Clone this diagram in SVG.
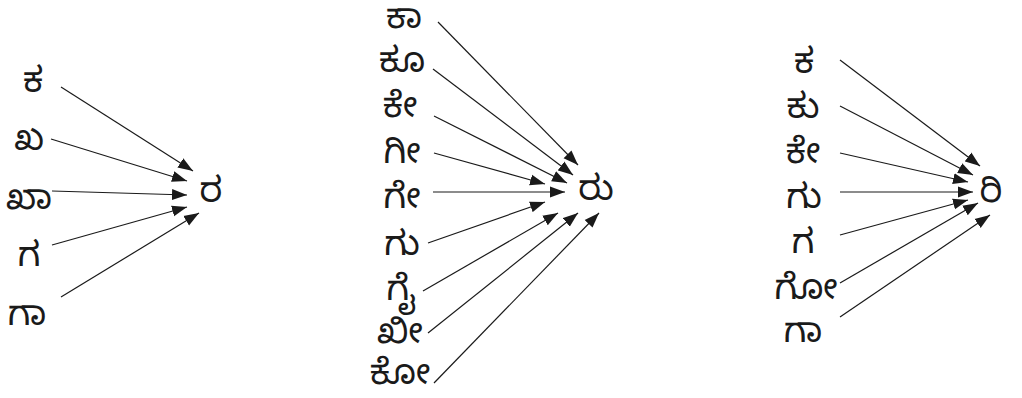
<svg xmlns="http://www.w3.org/2000/svg" width="1022" height="398" viewBox="0 0 1022 398">
<style>
text{font-family:"Noto Sans Kannada","Noto Sans","DejaVu Sans",sans-serif;font-size:35px;fill:#1a1a1a;text-anchor:middle}
.c line{stroke:#1a1a1a;stroke-width:1.2;marker-end:url(#ah)}
</style>
<defs>
<marker id="ah" markerUnits="userSpaceOnUse" markerWidth="16" markerHeight="12" viewBox="0 0 16 12" refX="15" refY="6" orient="auto">
<path d="M0,0.5 L15,6 L0,11.5 Z" fill="#1a1a1a"/>
</marker>
</defs>
<rect width="1022" height="398" fill="#fff"/>
<g id="g1">
<g id="n1a"><text x="33" y="92">ಕ</text></g>
<g id="n1b"><text x="29" y="150">ಖ</text></g>
<g id="n1c"><text x="29" y="209">ಖಾ</text></g>
<g id="n1d"><text x="29" y="266">ಗ</text></g>
<g id="n1e"><text x="27" y="325">ಗಾ</text></g>
<g id="n1t"><text x="211" y="202">ರ</text></g>
</g>
<g id="g2">
<g id="n2a"><text x="404" y="28">ಕಾ</text></g>
<g id="n2b"><text x="402" y="72">ಕೂ</text></g>
<g id="n2c"><text x="400" y="117">ಕೇ</text></g>
<g id="n2d"><text x="402" y="163">ಗೀ</text></g>
<g id="n2e"><text x="402" y="208">ಗೇ</text></g>
<g id="n2f"><text x="402" y="255">ಗು</text></g>
<g id="n2g"><text x="401" y="300">ಗೈ</text></g>
<g id="n2h"><text x="400" y="343">ಖೀ</text></g>
<g id="n2i"><text x="400" y="384">ಕೋ</text></g>
<g id="n2t"><text x="596" y="200">ರು</text></g>
</g>
<g id="g3">
<g id="n3a"><text x="804" y="73">ಕ</text></g>
<g id="n3b"><text x="803" y="118">ಕು</text></g>
<g id="n3c"><text x="803" y="163">ಕೇ</text></g>
<g id="n3d"><text x="804" y="208">ಗು</text></g>
<g id="n3e"><text x="803" y="253">ಗ</text></g>
<g id="n3f"><text x="806" y="299">ಗೋ</text></g>
<g id="n3g"><text x="803" y="342">ಗಾ</text></g>
<g id="n3t"><text x="991" y="202">ರಿ</text></g>
</g>
<g id="connectors" class="c">
<line x1="61" y1="87" x2="193" y2="171"/>
<line x1="51" y1="139" x2="187" y2="181"/>
<line x1="52" y1="191" x2="187" y2="195"/>
<line x1="52" y1="245" x2="187" y2="207"/>
<line x1="61" y1="297" x2="199" y2="213"/>
<line x1="438" y1="22" x2="578" y2="165"/>
<line x1="433" y1="69" x2="573" y2="175"/>
<line x1="434" y1="116" x2="567" y2="183"/>
<line x1="434" y1="153" x2="545" y2="184"/>
<line x1="433" y1="192" x2="565" y2="192"/>
<line x1="428" y1="243" x2="545" y2="202"/>
<line x1="423" y1="291" x2="558" y2="213"/>
<line x1="428" y1="333" x2="578" y2="213"/>
<line x1="434" y1="383" x2="599" y2="213"/>
<line x1="840" y1="60" x2="980" y2="166"/>
<line x1="840" y1="106" x2="973" y2="175"/>
<line x1="840" y1="153" x2="968" y2="182"/>
<line x1="840" y1="192" x2="973" y2="192"/>
<line x1="840" y1="235" x2="968" y2="200"/>
<line x1="840" y1="283" x2="978" y2="203"/>
<line x1="840" y1="317" x2="990" y2="215"/>
</g>
</svg>
